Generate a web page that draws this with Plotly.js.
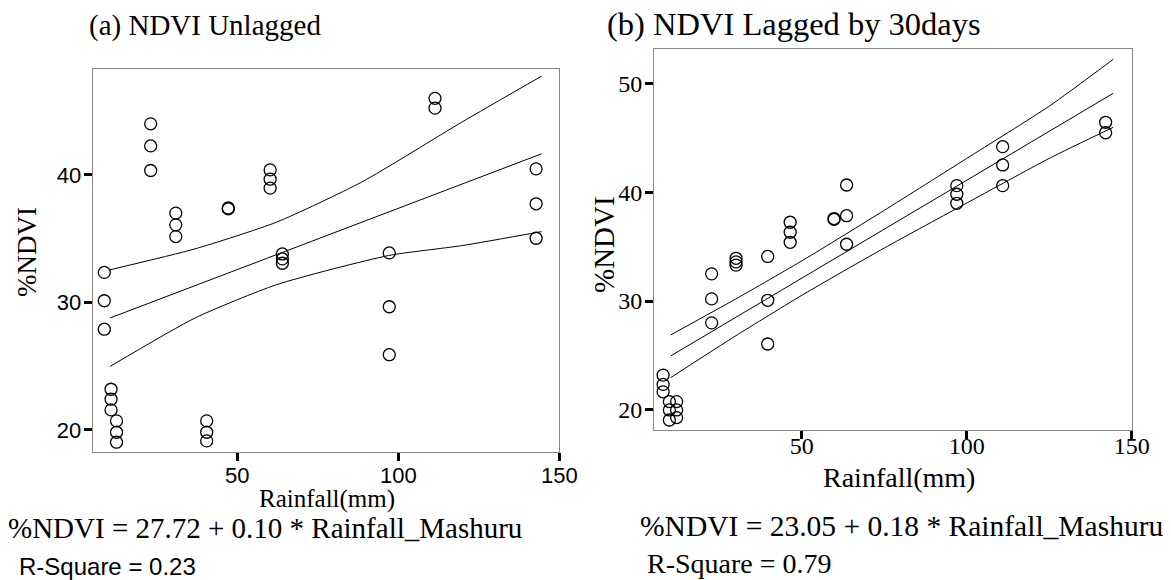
<!DOCTYPE html>
<html>
<head>
<meta charset="utf-8">
<script src="https://cdn.plot.ly/plotly-3.0.1.min.js"></script>
<style>html,body{margin:0;padding:0;background:#fff;}#chart{width:1171px;height:580px;}</style>
</head>
<body>
<div id="chart"></div>
<script>
// ---- (a) NDVI Unlagged: observed points ----
const rainA = [8.7,8.7,8.7, 10.8,10.8,10.8, 12.5,12.5,12.5, 23.1,23.1,23.1, 30.9,30.9,30.9, 40.5,40.5,40.5, 47.2,47.2, 60.2,60.2,60.2, 64.0,64.0,64.0, 97.2,97.2,97.2, 111.4,111.4, 142.8,142.8,142.8];
const ndviA = [32.35,30.13,27.9, 23.19,22.41,21.57, 20.71,19.82,19.04, 44.0,42.27,40.34, 37.0,36.08,35.16, 20.71,19.82,19.14, 37.33,37.4, 40.39,39.66,38.96, 33.8,33.41,33.07, 33.88,29.66,25.9, 46.0,45.23, 40.47,37.73,35.03];
// fit line and confidence band
const fitAx = [10.5, 144.5];
const fitAy = [28.78, 41.65];
const upperAx = [10.5, 36.9, 62.2, 88.6, 119.7, 144.5];
const upperA = [32.56, 34.2, 36.29, 39.43, 44.13, 47.74];
const lowerAx = [10.5, 36.9, 62.2, 96.9, 119.7, 144.5];
const lowerA = [24.98, 28.78, 31.39, 33.67, 34.45, 35.55];

// ---- (b) NDVI Lagged by 30days ----
const rainB = [8.0,8.0,8.0, 9.9,9.9,9.9, 12.1,12.1,12.1, 22.7,22.7,22.7, 30.1,30.1,30.1, 39.7,39.7,39.7, 46.5,46.5,46.5, 59.8,59.8, 63.6,63.6,63.6, 97.0,97.0,97.0, 110.9,110.9,110.9, 142.1,142.1];
const ndviB = [23.2,22.35,21.67, 20.77,20.0,19.08, 20.77,20.0,19.3, 32.5,30.2,28.0, 33.93,33.6,33.3, 34.1,30.07,26.06, 37.24,36.32,35.40, 37.5,37.58, 40.66,37.84,35.22, 40.6,39.81,38.98, 44.18,42.5,40.6, 46.42,45.46];
const fitBx = [10.3, 144.4];
const fitBy = [24.96, 49.08];
const bandBx = [10.3, 30, 50.7, 75, 100, 125, 144.4];
const upperB = [26.89, 30.19, 33.81, 38.33, 43.1, 47.9, 52.2];
const lowerB = [22.97, 26.81, 30.65, 34.87, 39.0, 43.1, 45.96];

const xTicks = [50, 100, 150];
const yTicksA = [20, 30, 40];
const yTicksB = [20, 30, 40, 50];

const SERIF = 'Liberation Serif, Times New Roman, serif';
const SANS = 'Liberation Sans, Arial, sans-serif';
const W = 1171, H = 580;
const px = v => v / W;
const py = v => 1 - v / H;

const mk = {symbol: 'circle-open', size: 12, color: '#000', line: {width: 1.3, color: '#000'}};
const ln = {color: '#000', width: 1, shape: 'spline', smoothing: 0.6};

const traces = [
  {x: upperAx, y: upperA, mode: 'lines', line: ln, xaxis: 'x', yaxis: 'y', hoverinfo: 'skip'},
  {x: fitAx, y: fitAy, mode: 'lines', line: {color: '#000', width: 1}, xaxis: 'x', yaxis: 'y'},
  {x: lowerAx, y: lowerA, mode: 'lines', line: ln, xaxis: 'x', yaxis: 'y', hoverinfo: 'skip'},
  {x: rainA, y: ndviA, mode: 'markers', marker: mk, xaxis: 'x', yaxis: 'y'},
  {x: bandBx, y: upperB, mode: 'lines', line: ln, xaxis: 'x2', yaxis: 'y2', hoverinfo: 'skip'},
  {x: fitBx, y: fitBy, mode: 'lines', line: {color: '#000', width: 1}, xaxis: 'x2', yaxis: 'y2'},
  {x: bandBx, y: lowerB, mode: 'lines', line: ln, xaxis: 'x2', yaxis: 'y2', hoverinfo: 'skip'},
  {x: rainB, y: ndviB, mode: 'markers', marker: mk, xaxis: 'x2', yaxis: 'y2'}
];

const axBase = {
  showline: true, linecolor: '#888', linewidth: 1, mirror: true,
  ticks: 'outside', ticklen: 8, tickwidth: 3, tickcolor: '#000',
  showgrid: false, zeroline: false, automargin: false, fixedrange: true
};

const layout = {
  width: W, height: H,
  margin: {l: 0, r: 0, t: 0, b: 0},
  paper_bgcolor: '#fff', plot_bgcolor: '#fff',
  showlegend: false,
  xaxis: Object.assign({}, axBase, {domain: [px(92.7), px(559.3)], range: [5.1, 150], tickmode: 'array', tickvals: xTicks, anchor: 'y',
    tickfont: {family: SANS, size: 22, color: '#000'}, ticklabelstandoff: -4}),
  yaxis: Object.assign({}, axBase, {domain: [py(452), py(69)], range: [18.27, 48.3], tickmode: 'array', tickvals: yTicksA, anchor: 'x',
    tickfont: {family: SANS, size: 22, color: '#000'}, ticklabelstandoff: -2}),
  xaxis2: Object.assign({}, axBase, {domain: [px(654), px(1131.7)], range: [5.24, 150], tickmode: 'array', tickvals: xTicks, anchor: 'y2',
    tickfont: {family: SERIF, size: 24, color: '#000'}, ticklabelstandoff: -14}),
  yaxis2: Object.assign({}, axBase, {domain: [py(430), py(49)], range: [18.16, 53.15], tickmode: 'array', tickvals: yTicksB, anchor: 'x2',
    tickfont: {family: SERIF, size: 24, color: '#000'}, ticklabelstandoff: -2}),
  annotations: [
    {text: '(a) NDVI Unlagged', x: px(87), y: py(26), xanchor: 'left', yanchor: 'middle', font: {family: SERIF, size: 29, color: '#000'}},
    {text: '(b) NDVI Lagged by 30days', x: px(605), y: py(24), xanchor: 'left', yanchor: 'middle', font: {family: SERIF, size: 32.5, color: '#000'}},
    {text: '%NDVI', x: px(27), y: py(252), textangle: -90, xanchor: 'center', yanchor: 'middle', font: {family: SERIF, size: 27, color: '#000'}},
    {text: '%NDVI', x: px(604), y: py(245), textangle: -90, xanchor: 'center', yanchor: 'middle', font: {family: SERIF, size: 29, color: '#000'}},
    {text: 'Rainfall(mm)', x: px(327), y: py(499), xanchor: 'center', yanchor: 'middle', font: {family: SERIF, size: 25, color: '#000'}},
    {text: 'Rainfall(mm)', x: px(899), y: py(477), xanchor: 'center', yanchor: 'middle', font: {family: SERIF, size: 28, color: '#000'}},
    {text: '%NDVI = 27.72 + 0.10 * Rainfall_Mashuru', x: px(6), y: py(528), xanchor: 'left', yanchor: 'middle', font: {family: SERIF, size: 29, color: '#000'}},
    {text: 'R-Square = 0.23', x: px(17), y: py(566), xanchor: 'left', yanchor: 'middle', font: {family: SANS, size: 24, color: '#000'}},
    {text: '%NDVI = 23.05 + 0.18 * Rainfall_Mashuru', x: px(638), y: py(526), xanchor: 'left', yanchor: 'middle', font: {family: SERIF, size: 29.5, color: '#000'}},
    {text: 'R-Square = 0.79', x: px(645), y: py(563), xanchor: 'left', yanchor: 'middle', font: {family: SERIF, size: 28, color: '#000'}}
  ].map(a => Object.assign({xref: 'paper', yref: 'paper', showarrow: false}, a))
};

Plotly.newPlot('chart', traces, layout, {displayModeBar: false, staticPlot: true});
</script>
</body>
</html>
